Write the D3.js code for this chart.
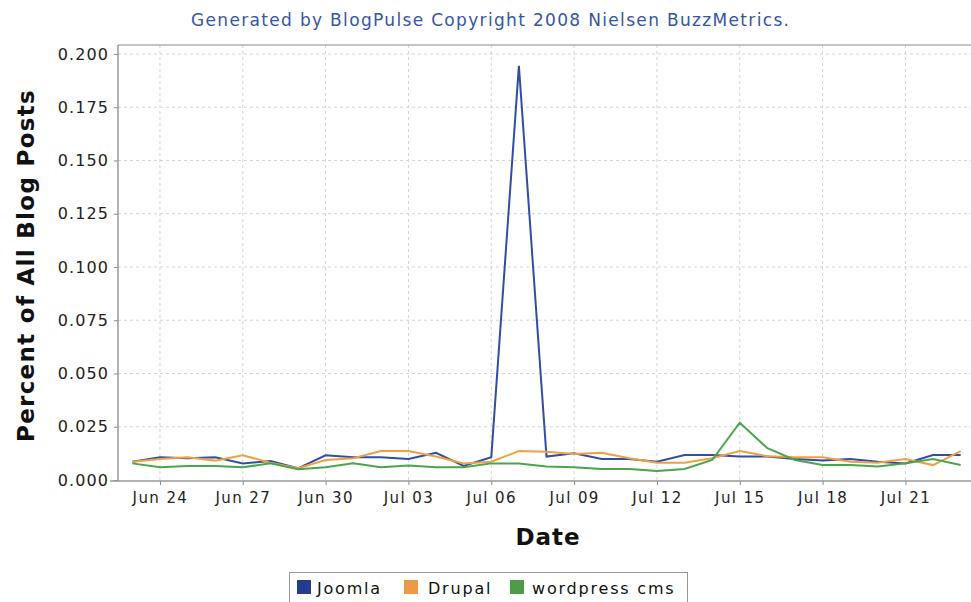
<!DOCTYPE html>
<html lang="en">
<head>
<meta charset="utf-8">
<title>BlogPulse trend: Joomla, Drupal, wordpress cms</title>
<script src="https://cdn.jsdelivr.net/npm/d3@7/dist/d3.min.js"></script>
<style>
  body { margin: 0; background: #fff; }
  text { font-family: "DejaVu Sans", sans-serif; }
</style>
</head>
<body>
<script>
// --- data ---
var firstDay = "2008-06-23";
var joomla = [0.0086, 0.0107, 0.0102, 0.0107, 0.0078, 0.0089, 0.0055, 0.0116, 0.0107, 0.0107,
              0.0099, 0.0128, 0.0066, 0.0107, 0.1944, 0.0110, 0.0125, 0.0099, 0.0099, 0.0086,
              0.0117, 0.0117, 0.0110, 0.0110, 0.0099, 0.0091, 0.0099, 0.0086, 0.0078, 0.0117, 0.0117];
var drupal = [0.0086, 0.0099, 0.0107, 0.0091, 0.0116, 0.0081, 0.0055, 0.0094, 0.0102, 0.0136,
              0.0136, 0.0110, 0.0078, 0.0086, 0.0136, 0.0133, 0.0122, 0.0128, 0.0102, 0.0081,
              0.0081, 0.0102, 0.0136, 0.0112, 0.0107, 0.0107, 0.0086, 0.0081, 0.0099, 0.0070, 0.0136];
var wordpress = [0.0078, 0.0060, 0.0066, 0.0066, 0.0060, 0.0078, 0.0050, 0.0060, 0.0078, 0.0060,
                 0.0068, 0.0060, 0.0060, 0.0078, 0.0078, 0.0063, 0.0060, 0.0052, 0.0052, 0.0042,
                 0.0052, 0.0094, 0.0269, 0.0149, 0.0094, 0.0070, 0.0070, 0.0063, 0.0078, 0.0099, 0.0070];
var seriesNames = ["Joomla", "Drupal", "wordpress cms"];
var seriesColors = ["#2f4fa6", "#f0a040", "#4aa64a"];
var legendColors = ["#233c8f", "#eb9a45", "#4f9c47"];
var yTicks = [0, 0.025, 0.05, 0.075, 0.1, 0.125, 0.15, 0.175, 0.2];
var xTickDates = ["2008-06-24", "2008-06-27", "2008-06-30", "2008-07-03", "2008-07-06",
                  "2008-07-09", "2008-07-12", "2008-07-15", "2008-07-18", "2008-07-21"];

var width = 971, height = 602;
// note: "top" is taken by window.top, so plot edges get their own names
var plotLeft = 118, plotTop = 45, plotBottom = 480, plotRight = 975;

var parseDay = d3.timeParse("%Y-%m-%d");
var start = parseDay(firstDay);
var dayMs = 864e5;
var dates = d3.range(joomla.length).map(i => d3.timeDay.offset(start, i));

var x = d3.scaleTime()
  .domain([new Date(+dates[0] - 0.52 * dayMs), new Date(+dates[dates.length - 1] + 0.52 * dayMs)])
  .range([plotLeft, plotRight]);
var y = d3.scaleLinear()
  .domain([0, 0.2042])
  .range([plotBottom, plotTop]);

var svg = d3.select("body").append("svg")
  .attr("width", width)
  .attr("height", height);

// title
svg.append("text")
  .attr("x", 191).attr("y", 26)
  .attr("fill", "#3556a3")
  .attr("font-family", "DejaVu Sans Condensed, DejaVu Sans, sans-serif")
  .attr("font-size", 17)
  .attr("textLength", 598)
  .attr("lengthAdjust", "spacing")
  .text("Generated by BlogPulse Copyright 2008 Nielsen BuzzMetrics.");

// grid
var tickDates = xTickDates.map(parseDay);
svg.append("g").selectAll("line")
  .data(tickDates).enter().append("line")
  .attr("x1", d => x(d)).attr("x2", d => x(d))
  .attr("y1", plotTop).attr("y2", plotBottom)
  .attr("stroke", "#d4d4d4").attr("stroke-dasharray", "3,3");
svg.append("g").selectAll("line")
  .data(yTicks.slice(1)).enter().append("line")
  .attr("x1", plotLeft).attr("x2", width)
  .attr("y1", d => y(d)).attr("y2", d => y(d))
  .attr("stroke", "#d4d4d4").attr("stroke-dasharray", "3,3");

// plot outline at top
svg.append("line")
  .attr("x1", plotLeft).attr("x2", width).attr("y1", plotTop).attr("y2", plotTop)
  .attr("stroke", "#b0b0b0").attr("stroke-width", 1.5);

// axes
var yAxis = d3.axisLeft(y).tickValues(yTicks).tickFormat(d3.format(".3f")).tickSize(4).tickPadding(5);
var gy = svg.append("g").attr("transform", "translate(" + plotLeft + ",0)").call(yAxis);
gy.select(".domain").remove();
gy.append("line").attr("x1", 0).attr("x2", 0).attr("y1", plotTop).attr("y2", plotBottom + 1)
  .attr("stroke", "#999").attr("stroke-width", 1.5);

var xAxis = d3.axisBottom(x).tickValues(tickDates).tickFormat(d3.timeFormat("%b %d")).tickSize(4).tickPadding(7);
var gx = svg.append("g").attr("transform", "translate(0," + (plotBottom + 1) + ")").call(xAxis);
gx.select(".domain").remove();
gx.append("line").attr("x1", plotLeft - 8).attr("x2", width).attr("y1", 0).attr("y2", 0)
  .attr("stroke", "#999").attr("stroke-width", 1.5);

svg.selectAll(".tick line").attr("stroke", "#888");
svg.selectAll(".tick text")
  .attr("fill", "#222")
  .attr("font-size", 15)
  .attr("letter-spacing", 1.4)
  .attr("font-family", "DejaVu Sans, sans-serif");
gy.selectAll(".tick text")
  .attr("font-size", 16)
  .attr("letter-spacing", 1.1);

// axis titles
svg.append("text")
  .attr("transform", "translate(34," + ((plotTop + plotBottom) / 2 + 3) + ") rotate(-90)")
  .attr("text-anchor", "middle")
  .attr("font-size", 23).attr("font-weight", "bold").attr("fill", "#111")
  .attr("letter-spacing", 1.3)
  .text("Percent of All Blog Posts");
svg.append("text")
  .attr("x", 548).attr("y", 545)
  .attr("text-anchor", "middle")
  .attr("font-size", 23).attr("font-weight", "bold").attr("fill", "#111")
  .attr("letter-spacing", 1)
  .text("Date");

// lines
var allSeries = [joomla, drupal, wordpress];
var line = d3.line()
  .x((d, i) => x(dates[i]))
  .y(d => y(d));
svg.append("g").selectAll("path")
  .data(allSeries).enter().append("path")
  .attr("d", line)
  .attr("fill", "none")
  .attr("stroke", (d, i) => seriesColors[i])
  .attr("stroke-width", 2)
  .attr("stroke-linejoin", "miter");

// legend
var legend = svg.append("g");
legend.append("rect")
  .attr("x", 289.5).attr("y", 572.5).attr("width", 398).attr("height", 40)
  .attr("fill", "#fff").attr("stroke", "#999");
var swatchX = [297, 404, 510];
var labelX = [317, 428, 532];
var item = legend.selectAll("g")
  .data(seriesNames).enter().append("g");
item.append("rect")
  .attr("x", (d, i) => swatchX[i]).attr("y", 580).attr("width", 14).attr("height", 14)
  .attr("fill", (d, i) => legendColors[i]);
item.append("text")
  .attr("x", (d, i) => labelX[i]).attr("y", 594)
  .attr("font-size", 16).attr("fill", "#111")
  .attr("letter-spacing", 1.8)
  .text(d => d);
</script>
</body>
</html>
